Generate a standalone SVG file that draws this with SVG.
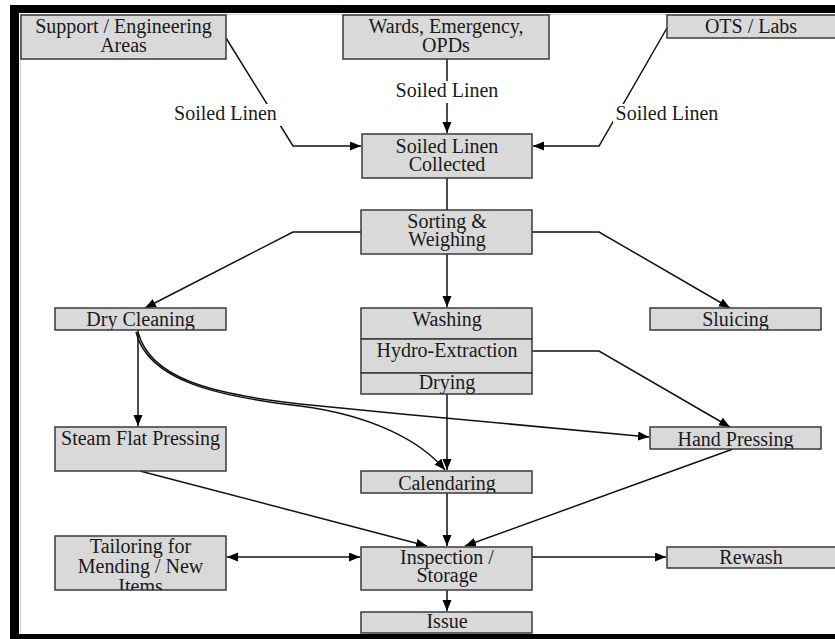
<svg xmlns="http://www.w3.org/2000/svg" width="835" height="639" viewBox="0 0 835 639">
<style>
.box{fill:#d9d9d9;stroke:#3a3a3a;stroke-width:1.5}
.t{font-family:"Liberation Serif","Times New Roman",serif;font-size:20px;fill:#1a1a1a;text-anchor:middle}
.c{fill:none;stroke:#111;stroke-width:1.5}
.lbl{fill:#fff}
</style>
<defs>
<marker id="ah" markerUnits="userSpaceOnUse" markerWidth="12" markerHeight="10" refX="11" refY="4.5" orient="auto-start-reverse">
<path d="M0,0 L11,4.5 L0,9 z" fill="#000"/>
</marker>
<clipPath id="cDry"><rect x="55" y="308" width="171" height="22"/></clipPath>
<clipPath id="cSlu"><rect x="650" y="308" width="171" height="22"/></clipPath>
<clipPath id="cHand"><rect x="650" y="427" width="171" height="22"/></clipPath>
<clipPath id="cCal"><rect x="361" y="471" width="171" height="22"/></clipPath>
<clipPath id="cTail"><rect x="55" y="536" width="171" height="54"/></clipPath>
<clipPath id="cIss"><rect x="361" y="612" width="171" height="21"/></clipPath>
<clipPath id="cWash"><rect x="361" y="308" width="171" height="31"/></clipPath>
<clipPath id="cDryg"><rect x="361" y="373" width="171" height="21"/></clipPath>
</defs>
<rect width="835" height="639" fill="#fff"/>
<!-- frame -->
<rect x="10" y="5" width="825" height="8" fill="#000"/>
<rect x="10" y="5" width="9" height="634" fill="#000"/>
<rect x="10" y="634" width="825" height="5" fill="#000"/>
<line x1="20.5" y1="14" x2="20.5" y2="633" stroke="#c8d0d8" stroke-width="1"/>
<line x1="20" y1="14.5" x2="835" y2="14.5" stroke="#c8d0d8" stroke-width="1"/>

<g id="connectors">
<polyline class="c" points="226,38 293,146 361,146" marker-end="url(#ah)"/>
<line class="c" x1="447" y1="59" x2="447" y2="133" marker-end="url(#ah)"/>
<polyline class="c" points="667,28 599,146 533,146" marker-end="url(#ah)"/>
<line class="c" x1="447" y1="178" x2="447" y2="210"/>
<polyline class="c" points="361,232 293,232 145,308" marker-end="url(#ah)"/>
<line class="c" x1="447" y1="254" x2="447" y2="307" marker-end="url(#ah)"/>
<polyline class="c" points="532,232 599,232 730,308" marker-end="url(#ah)"/>
<polyline class="c" points="532,351 599,351 730,427" marker-end="url(#ah)"/>
<line class="c" x1="138" y1="330" x2="138" y2="426" marker-end="url(#ah)"/>
<path class="c" d="M138,332 C150,378 210,394 300,404 C420,416 560,429 649,437" marker-end="url(#ah)"/>
<path class="c" d="M136,332 C148,382 222,397 300,406 C370,415 420,440 445,470" marker-end="url(#ah)"/>
<line class="c" x1="447" y1="394" x2="447" y2="470" marker-end="url(#ah)"/>
<line class="c" x1="140" y1="471" x2="427" y2="546" marker-end="url(#ah)"/>
<line class="c" x1="733" y1="449" x2="465" y2="546" marker-end="url(#ah)"/>
<line class="c" x1="447" y1="493" x2="447" y2="546" marker-end="url(#ah)"/>
<line class="c" x1="227" y1="557" x2="360" y2="557" marker-start="url(#ah)" marker-end="url(#ah)"/>
<line class="c" x1="532" y1="557" x2="666" y2="557" marker-end="url(#ah)"/>
<line class="c" x1="447" y1="590" x2="447" y2="611" marker-end="url(#ah)"/>
<rect class="lbl" x="171" y="104" width="110" height="22"/>
<text class="t" x="225.5" y="120">Soiled Linen</text>
<rect class="lbl" x="392" y="81" width="110" height="22"/>
<text class="t" x="447" y="97">Soiled Linen</text>
<rect class="lbl" x="613" y="104" width="110" height="22"/>
<text class="t" x="667" y="120">Soiled Linen</text>
</g>

<g id="support">
<rect class="box" x="21" y="15" width="205" height="44"/>
<text class="t" x="123.5" y="33">Support / Engineering</text>
<text class="t" x="123.5" y="52">Areas</text>
</g>
<g id="wards">
<rect class="box" x="343" y="15" width="206" height="44"/>
<text class="t" x="446" y="33">Wards, Emergency,</text>
<text class="t" x="446" y="52">OPDs</text>
</g>
<g id="ots">
<rect class="box" x="667" y="15" width="172" height="23"/>
<text class="t" x="751" y="33">OTS / Labs</text>
</g>
<g id="collected">
<rect class="box" x="362" y="134" width="170" height="44"/>
<text class="t" x="447" y="153">Soiled Linen</text>
<text class="t" x="447" y="171">Collected</text>
</g>
<g id="sorting">
<rect class="box" x="361" y="210" width="171" height="44"/>
<text class="t" x="447" y="228">Sorting &amp;</text>
<text class="t" x="447" y="246">Weighing</text>
</g>
<g id="dry-cleaning">
<rect class="box" x="55" y="308" width="171" height="22"/>
<text class="t" x="140.5" y="326" clip-path="url(#cDry)">Dry Cleaning</text>
</g>
<g id="washing">
<rect class="box" x="361" y="308" width="171" height="31"/>
<text class="t" x="447" y="326" clip-path="url(#cWash)">Washing</text>
</g>
<g id="hydro">
<rect class="box" x="361" y="339" width="171" height="34"/>
<text class="t" x="447" y="357">Hydro-Extraction</text>
</g>
<g id="drying">
<rect class="box" x="361" y="373" width="171" height="21"/>
<text class="t" x="447" y="389" clip-path="url(#cDryg)">Drying</text>
</g>
<g id="sluicing">
<rect class="box" x="650" y="308" width="171" height="22"/>
<text class="t" x="735.5" y="326" clip-path="url(#cSlu)">Sluicing</text>
</g>
<g id="steam">
<rect class="box" x="55" y="427" width="171" height="44"/>
<text class="t" x="140.5" y="445">Steam Flat Pressing</text>
</g>
<g id="hand">
<rect class="box" x="650" y="427" width="171" height="22"/>
<text class="t" x="735.5" y="446" clip-path="url(#cHand)">Hand Pressing</text>
</g>
<g id="calendaring">
<rect class="box" x="361" y="471" width="171" height="22"/>
<text class="t" x="447" y="490" clip-path="url(#cCal)">Calendaring</text>
</g>
<g id="tailoring">
<rect class="box" x="55" y="536" width="171" height="54"/>
<text class="t" clip-path="url(#cTail)"><tspan x="140.5" y="553">Tailoring for</tspan><tspan x="140.5" y="573">Mending / New</tspan><tspan x="140.5" y="593">Items</tspan></text>
</g>
<g id="inspection">
<rect class="box" x="361" y="547" width="171" height="43"/>
<text class="t" x="447" y="564">Inspection /</text>
<text class="t" x="447" y="582">Storage</text>
</g>
<g id="rewash">
<rect class="box" x="667" y="547" width="172" height="21"/>
<text class="t" x="751" y="564">Rewash</text>
</g>
<g id="issue">
<rect class="box" x="361" y="612" width="171" height="21"/>
<text class="t" x="447" y="628" clip-path="url(#cIss)">Issue</text>
</g>
</svg>
